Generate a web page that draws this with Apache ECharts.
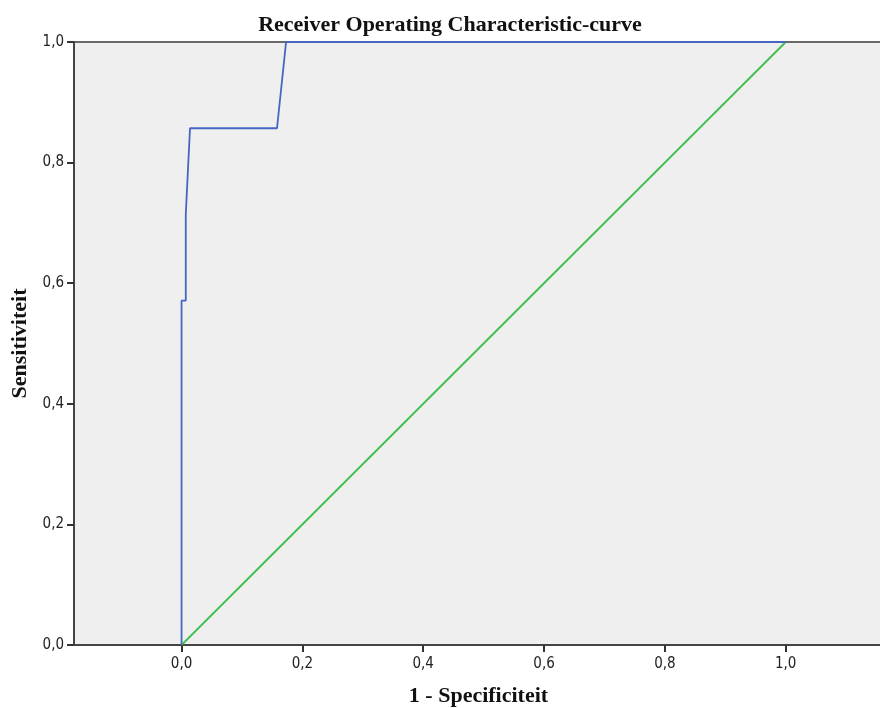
<!DOCTYPE html>
<html>
<head>
<meta charset="utf-8">
<script src="https://cdn.jsdelivr.net/npm/echarts@6/dist/echarts.min.js"></script>
<style>html,body{margin:0;padding:0;background:#fff}#c{width:880px;height:708px}</style>
</head>
<body>
<div id="c"></div>
<script>
// ROC curve points: [1 - specificity, sensitivity]
const rocFpr = [0, 0, 0.007, 0.007, 0.014, 0.158, 0.173, 1.0];
const rocTpr = [0, 0.571, 0.571, 0.714, 0.857, 0.857, 1.0, 1.0];
// reference diagonal
const refFpr = [0, 1];
const refTpr = [0, 1];
const xTicks = [0, 0.2, 0.4, 0.6, 0.8, 1.0];
const yTicks = [0, 0.2, 0.4, 0.6, 0.8, 1.0];

const fmt = v => v.toFixed(1).replace('.', ',');
const chart = echarts.init(document.getElementById('c'));
chart.setOption({
  animation: false,
  backgroundColor: '#ffffff',
  title: {
    text: 'Receiver Operating Characteristic-curve',
    left: 445, top: 9, textAlign: 'center',
    textStyle: {fontFamily: 'Liberation Serif', fontWeight: 'bold', fontSize: 22, color: '#111'}
  },
  grid: {
    left: 74, top: 42, bottom: 63, right: -3,
    outerBoundsMode: 'none', containLabel: false,
    show: true, backgroundColor: '#efefef', borderColor: '#6a6a6a', borderWidth: 2
  },
  xAxis: {
    type: 'value', min: -0.178, max: 1.161,
    name: '1 - Specificiteit', nameLocation: 'middle', nameGap: 40,
    nameTextStyle: {fontFamily: 'Liberation Serif', fontWeight: 'bold', fontSize: 22, color: '#111'},
    axisLine: {show: true, onZero: false, lineStyle: {color: '#444', width: 2}},
    axisTick: {show: true, customValues: xTicks, length: 7, lineStyle: {color: '#333', width: 2}},
    axisLabel: {customValues: xTicks, formatter: fmt, margin: 12,
      fontFamily: 'DejaVu Sans Condensed', fontSize: 15, color: '#222'},
    splitLine: {show: false}
  },
  yAxis: {
    type: 'value', min: 0, max: 1, interval: 0.2,
    name: 'Sensitiviteit', nameLocation: 'middle', nameGap: 43, nameRotate: 90,
    nameTextStyle: {fontFamily: 'Liberation Serif', fontWeight: 'bold', fontSize: 22, color: '#111'},
    axisLine: {show: true, onZero: false, lineStyle: {color: '#444', width: 2}},
    axisTick: {show: true, length: 7, lineStyle: {color: '#333', width: 2}},
    axisLabel: {formatter: fmt, margin: 10,
      fontFamily: 'DejaVu Sans Condensed', fontSize: 15, color: '#222'},
    splitLine: {show: false}
  },
  series: [
    {
      type: 'line', data: refFpr.map((x, i) => [x, refTpr[i]]),
      symbol: 'none', lineStyle: {color: '#3fbf4c', width: 1.8}, z: 2
    },
    {
      type: 'line', data: rocFpr.map((x, i) => [x, rocTpr[i]]),
      symbol: 'none', lineStyle: {color: '#4566c2', width: 1.8}, z: 3
    }
  ]
});
</script>
</body>
</html>
